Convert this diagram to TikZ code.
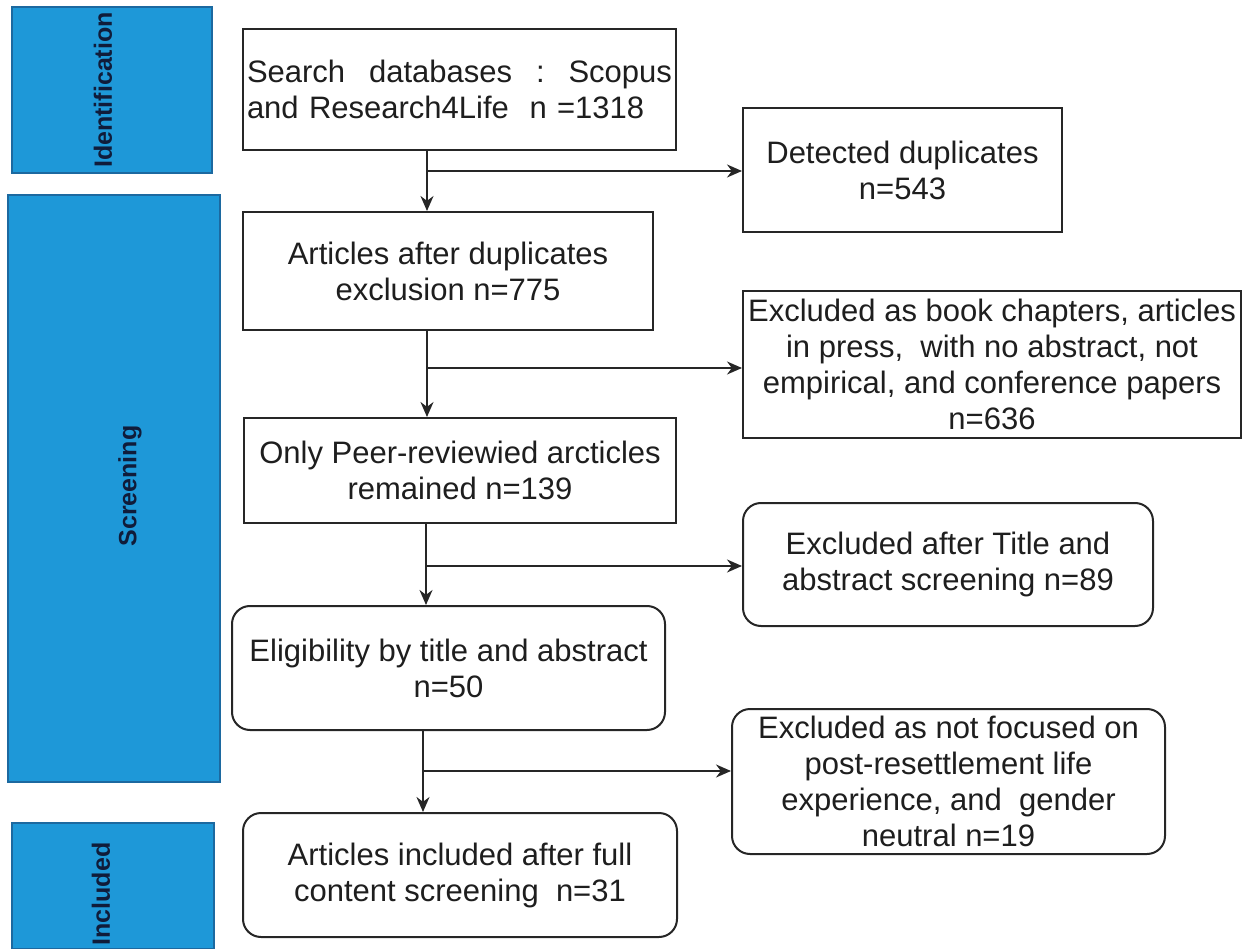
\documentclass[tikz,border=0pt]{standalone}
\usepackage{fontspec}
\setmainfont{Liberation Sans}
\usetikzlibrary{arrows.meta,calc}
\definecolor{phasefill}{RGB}{30,152,216}
\definecolor{phasedraw}{RGB}{28,105,160}
\definecolor{phasetext}{RGB}{16,28,58}
\definecolor{boxtext}{RGB}{30,30,30}
\tikzset{
  phase/.style={draw=phasedraw, line width=1.5pt, fill=phasefill, inner sep=0pt},
  phaselabel/.style={text=phasetext, font=\fontsize{25}{28}\selectfont\bfseries, rotate=90, inner sep=0pt},
  sqbox/.style={draw=black!85, line width=2pt, fill=white, align=center, text=boxtext,
    font=\fontsize{31}{36}\selectfont, inner sep=2pt},
  rdbox/.style={sqbox, rounded corners=18pt},
  arr/.style={draw=black!85, line width=2pt, -{Stealth[length=15pt,width=13pt]}},
  ln/.style={draw=black!85, line width=2pt}
}
\begin{document}
\begin{tikzpicture}[x=1pt,y=-1pt]
\useasboundingbox (0,0) rectangle (1253,949);
% phase bars
\node[phase, minimum width=200pt, minimum height=166pt] (idbar) at (112,90) {};
\node[phaselabel] (idlab) at (103,90) {Identification};
\node[phase, minimum width=212pt, minimum height=587pt] (scrbar) at (114,488.5) {};
\node[phaselabel] (scrlab) at (130,486) {Screening};
\node[phase, minimum width=202pt, minimum height=126pt] (incbar) at (113,886) {};
\node[phaselabel] (inclab) at (101,894) {Included};
% main boxes
\node[sqbox, minimum width=433pt, minimum height=121pt, text width=425pt, align=left] (search) at (459.5,89.5)
  {Search\hfill databases\hfill :\hfill Scopus\\and Research4Life\ \ n =1318};
\node[sqbox, minimum width=319pt, minimum height=124pt] (dup) at (902.5,170)
  {Detected duplicates\\n=543};
\node[sqbox, minimum width=410pt, minimum height=118pt] (art) at (448,271)
  {Articles after duplicates\\exclusion n=775};
\node[sqbox, minimum width=498pt, minimum height=147pt] (book) at (992,364.5)
  {Excluded as book chapters, articles\\in press,\ \ with no abstract, not\\empirical, and conference papers\\n=636};
\node[sqbox, minimum width=432pt, minimum height=105pt] (peer) at (460,470.5)
  {Only Peer-reviewied arcticles\\remained n=139};
\node[rdbox, minimum width=410pt, minimum height=123pt] (title) at (948,564.5)
  {Excluded after Title and\\abstract screening n=89};
\node[rdbox, minimum width=433pt, minimum height=124pt] (elig) at (448.5,668)
  {Eligibility by title and abstract\\n=50};
\node[rdbox, minimum width=433pt, minimum height=145pt] (focus) at (948.5,781.5)
  {Excluded as not focused on\\post-resettlement life\\experience, and\ \ gender\\neutral n=19};
\node[rdbox, minimum width=434pt, minimum height=124pt] (incl) at (460,875)
  {Articles included after full\\content screening\ \ n=31};
% branch points
\coordinate (b1) at (427,171);
\coordinate (b2) at (427,368);
\coordinate (b3) at (426,566);
\coordinate (b4) at (423,771);
% connectors
\draw[arr] (search.south -| b1) -- (art.north -| b1);
\draw[arr] (b1) -- (dup.west |- b1);
\draw[arr] (art.south -| b2) -- (peer.north -| b2);
\draw[arr] (b2) -- (book.west |- b2);
\draw[arr] (peer.south -| b3) -- (elig.north -| b3);
\draw[arr] (b3) -- (title.west |- b3);
\draw[arr] (elig.south -| b4) -- (incl.north -| b4);
\draw[arr] (b4) -- (focus.west |- b4);
\end{tikzpicture}
\end{document}
